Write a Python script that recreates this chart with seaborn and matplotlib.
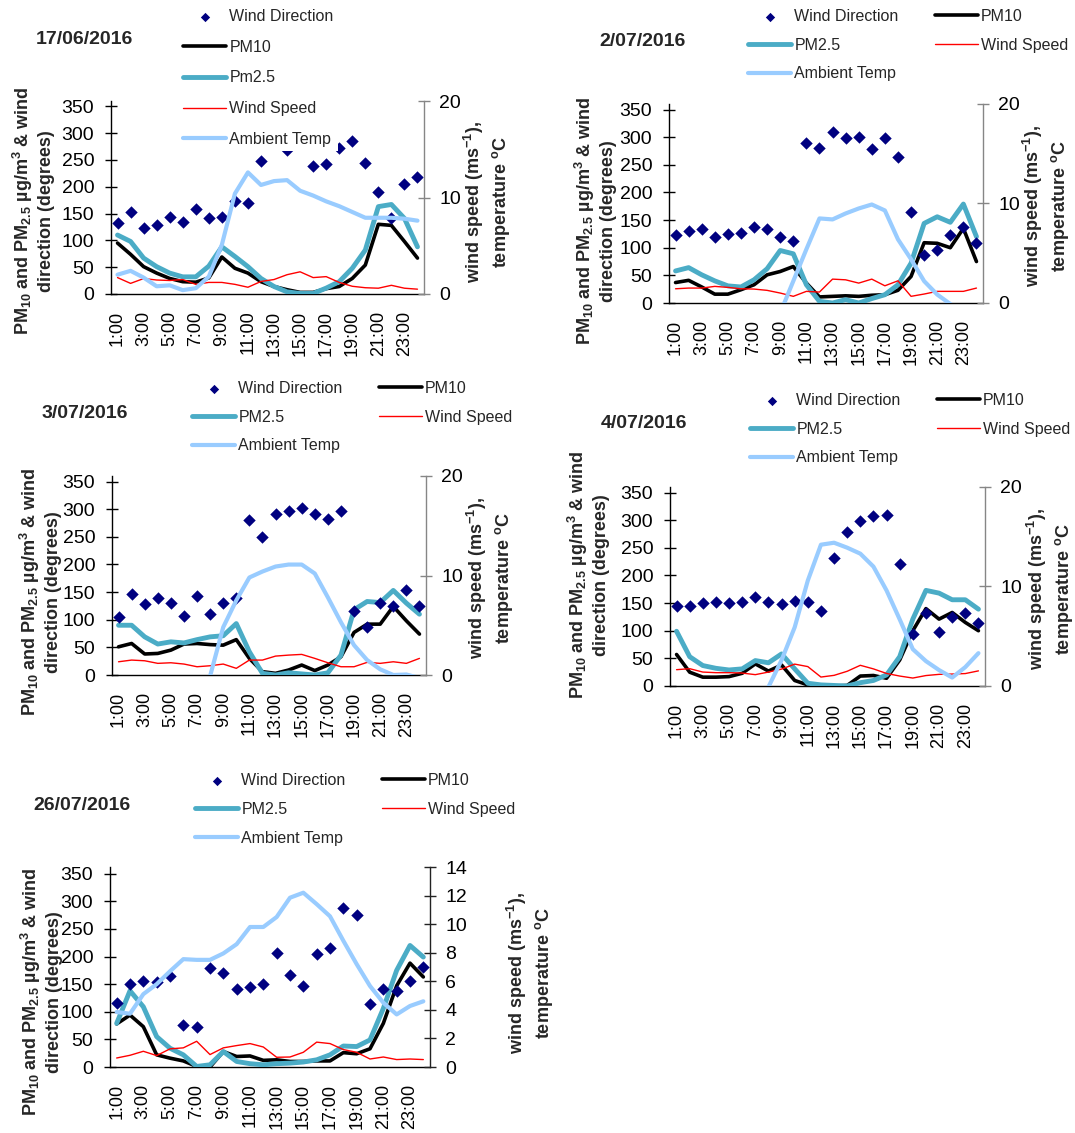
import numpy as np
import pandas as pd
import matplotlib
matplotlib.use("Agg")
import matplotlib.pyplot as plt
import seaborn as sns

# ---------------- data ----------------
HOURS = ["1:00", "2:00", "3:00", "4:00", "5:00", "6:00", "7:00", "8:00",
         "9:00", "10:00", "11:00", "12:00", "13:00", "14:00", "15:00", "16:00",
         "17:00", "18:00", "19:00", "20:00", "21:00", "22:00", "23:00", "24:00"]

# 17/06/2016
wd_0617 = [132, 153, 123, 129, 144, 134, 159, 141, 143, 173, 169, 249, 290, 268, 292, 239, 243, 273, 286, 245, 191, 141, 206, 219]
pm10_0617 = [95, 74, 51, 39, 29, 23, 22, 30, 69, 48, 39, 23, 14, 8, 3, 3, 10, 14, 29, 54, 130, 128, 98, 67]
pm25_0617 = [110, 98, 67, 51, 39, 32, 32, 52, 88, 70, 51, 29, 14, 4, 1, 1, 11, 23, 48, 82, 163, 167, 141, 88]
ws_0617 = [1.7, 1.1, 1.6, 1.45, 1.4, 1.5, 1.0, 1.2, 1.2, 1.0, 0.7, 1.3, 1.5, 2.0, 2.3, 1.7, 1.8, 1.2, 0.8, 0.65, 0.6, 0.9, 0.6, 0.5]
temp_0617 = [2.0, 2.4, 1.7, 0.8, 0.9, 0.4, 0.6, 1.8, 5.1, 10.4, 12.6, 11.3, 11.7, 11.8, 10.7, 10.2, 9.6, 9.1, 8.5, 7.9, 7.9, 7.9, 7.8, 7.6]

# 2/07/2016
wd_0207 = [123, 130, 134, 120, 124, 126, 137, 134, 120, 113, 289, 281, 310, 298, 301, 278, 298, 265, 164, 87, 96, 123, 138, 109]
pm10_0207 = [37, 41, 29, 16, 16, 24, 33, 51, 57, 66, 36, 11, 12, 13, 12, 14, 15, 23, 48, 109, 108, 100, 135, 75]
pm25_0207 = [58, 64, 51, 40, 31, 29, 42, 62, 95, 89, 33, 3, 0, 6, 0, 8, 15, 33, 72, 144, 156, 146, 179, 120]
ws_0207 = [1.43, 1.5, 1.5, 1.67, 1.57, 1.43, 1.4, 1.27, 1.0, 0.67, 1.17, 1.1, 2.4, 2.33, 2.0, 2.4, 1.73, 2.23, 0.67, 0.9, 1.17, 1.17, 1.17, 1.5]
temp_0207 = [-3.0, -3.2, -3.5, -3.8, -4.0, -4.0, -3.6, -2.8, -1.0, 2.2, 5.4, 8.5, 8.4, 9.0, 9.5, 9.9, 9.3, 6.4, 4.4, 2.2, 0.85, -0.1, -1.0, -1.5]

# 3/07/2016
wd_0307 = [105, 146, 128, 140, 131, 107, 143, 110, 131, 140, 280, 250, 291, 297, 303, 291, 283, 297, 115, 87, 131, 124, 154, 125]
pm10_0307 = [51, 57, 38, 39, 45, 56, 57, 55, 54, 64, 30, 6, 3, 9, 18, 8, 18, 33, 77, 92, 92, 124, 98, 74]
pm25_0307 = [90, 90, 69, 56, 60, 58, 64, 69, 71, 93, 42, 3, 0, 4, 2, 0, 4, 36, 118, 133, 131, 153, 130, 110]
ws_0307 = [1.33, 1.5, 1.43, 1.17, 1.23, 1.1, 0.83, 0.93, 1.1, 0.67, 1.5, 1.5, 1.9, 2.0, 2.07, 1.67, 1.23, 0.83, 0.83, 1.27, 1.17, 1.33, 1.17, 1.67]
temp_0307 = [-3.0, -3.2, -3.4, -3.5, -3.5, -3.0, -2.0, -0.1, 4.8, 7.5, 9.8, 10.4, 10.9, 11.1, 11.1, 10.2, 7.8, 5.3, 3.0, 1.5, 0.57, 0.0, 0.05, -0.3]

# 4/07/2016
wd_0407 = [144, 144, 150, 152, 150, 152, 161, 152, 149, 153, 152, 135, 231, 279, 299, 308, 309, 220, 94, 132, 98, 125, 132, 114]
pm10_0407 = [57, 25, 16, 16, 17, 23, 40, 27, 38, 10, 2, 0, 0, 1, 18, 19, 14, 47, 100, 140, 121, 133, 115, 100]
pm25_0407 = [99, 53, 37, 32, 29, 31, 46, 42, 58, 31, 5, 2, 1, 0, 6, 10, 20, 53, 121, 173, 168, 156, 156, 139]
ws_0407 = [1.64, 1.74, 1.4, 1.34, 1.34, 1.3, 1.14, 1.4, 1.7, 2.2, 1.95, 0.9, 1.07, 1.48, 2.08, 1.72, 1.26, 1.0, 0.8, 1.05, 1.17, 1.2, 1.25, 1.52]
temp_0407 = [-3.0, -3.2, -3.4, -3.5, -3.4, -3.0, -2.0, -0.1, 2.6, 5.9, 10.6, 14.2, 14.4, 13.9, 13.3, 12.0, 9.6, 6.7, 3.7, 2.5, 1.6, 0.85, 1.9, 3.3]

# 26/07/2016
wd_2607 = [115, 150, 156, 153, 165, 76, 73, 180, 171, 141, 145, 151, 207, 167, 147, 204, 215, 288, 275, 114, 142, 138, 155, 181]
pm10_2607 = [78, 94, 73, 22, 16, 11, 1, 0, 28, 19, 20, 12, 13, 10, 10, 11, 11, 26, 24, 33, 79, 147, 188, 163]
pm25_2607 = [79, 138, 109, 55, 34, 22, 1, 4, 28, 10, 6, 4, 6, 7, 9, 13, 22, 38, 37, 49, 106, 175, 220, 199]
ws_2607 = [0.63, 0.82, 1.1, 0.8, 1.27, 1.34, 1.8, 0.87, 1.34, 1.5, 1.64, 1.4, 0.68, 0.7, 1.03, 1.74, 1.64, 1.22, 1.03, 0.56, 0.7, 0.52, 0.56, 0.52]
temp_2607 = [3.85, 3.73, 5.1, 5.8, 6.7, 7.55, 7.5, 7.5, 7.95, 8.6, 9.8, 9.8, 10.5, 11.85, 12.2, 11.4, 10.55, 8.84, 7.2, 5.67, 4.5, 3.68, 4.27, 4.6]

# ---------------- style ----------------
sns.set_theme(style="white")
plt.rcParams['font.family'] = ['Liberation Sans', 'DejaVu Sans']
plt.rcParams['mathtext.fontset'] = 'custom'
plt.rcParams['mathtext.rm'] = 'Liberation Sans:bold'
plt.rcParams['mathtext.it'] = 'Liberation Sans:bold'
plt.rcParams['mathtext.bf'] = 'Liberation Sans:bold'
plt.rcParams['mathtext.sf'] = 'Liberation Sans:bold'
plt.rcParams['mathtext.default'] = 'rm'

C_WD = '#000080'
C_PM10 = '#000000'
C_PM25 = '#4BACC6'
C_WS = '#FF0000'
C_T = '#99CCFF'

W, H = 1075, 1133
fig = plt.figure(figsize=(W / 100, H / 100), dpi=100)
fig.patch.set_facecolor('white')


def fx(x):
    return x / W


def fy(y):
    return 1 - y / H


LEFT_LABEL = "PM$_{10}$ and PM$_{2.5}$ µg/m$^{3}$ & wind\ndirection (degrees)"
RIGHT_LABEL = "wind speed (ms$^{-1}$),\ntemperature $^{o}$C"

PANELS = [
    dict(title='17/06/2016', wd=wd_0617, pm10=pm10_0617, pm25=pm25_0617, ws=ws_0617, temp=temp_0617,
         pm25_label='Pm2.5', box=(111, 101, 424, 294), lmax=360, rmax=20, rticks=[0, 10, 20],
         title_xy=(36, 39), ylab_l=(33, 211), ylab_r=(487, 202), rcol='#868686',
         leg=(183, 15, 1, 30.7)),
    dict(title='2/07/2016', wd=wd_0207, pm10=pm10_0207, pm25=pm25_0207, ws=ws_0207, temp=temp_0207,
         pm25_label='PM2.5', box=(669, 104, 983, 303), lmax=360, rmax=20, rticks=[0, 10, 20],
         title_xy=(599, 41), ylab_l=(595, 221), ylab_r=(1046, 206), rcol='#868686',
         leg=(748, 15, 2, 28.7)),
    dict(title='3/07/2016', wd=wd_0307, pm10=pm10_0307, pm25=pm25_0307, ws=ws_0307, temp=temp_0307,
         pm25_label='PM2.5', box=(112, 476, 426, 675), lmax=360, rmax=20, rticks=[0, 10, 20],
         title_xy=(42, 413), ylab_l=(40, 592), ylab_r=(490, 578), rcol='#868686',
         leg=(192, 387, 2, 28.7)),
    dict(title='4/07/2016', wd=wd_0407, pm10=pm10_0407, pm25=pm25_0407, ws=ws_0407, temp=temp_0407,
         pm25_label='PM2.5', box=(670, 487, 985, 686), lmax=360, rmax=20, rticks=[0, 10, 20],
         title_xy=(601, 424), ylab_l=(588, 575), ylab_r=(1050, 589), rcol='#868686',
         leg=(750, 399, 2, 28.7)),
    dict(title='26/07/2016', wd=wd_2607, pm10=pm10_2607, pm25=pm25_2607, ws=ws_2607, temp=temp_2607,
         pm25_label='PM2.5', box=(110, 867, 430, 1067), lmax=362, rmax=14, rticks=[0, 2, 4, 6, 8, 10, 12, 14],
         title_xy=(33, 805), ylab_l=(41, 992), ylab_r=(530, 973), rcol='#222222',
         leg=(195, 779, 2, 28.9)),
]

TICK_FS = 14
XTICK_FS = 13
LEG_FS = 11.5
LAB_FS = 13
TITLE_FS = 14


def draw(p):
    L, T, R, B = p['box']
    ax = fig.add_axes([fx(L), fy(B), (R - L) / W, (B - T) / H])
    df = pd.DataFrame({'i': np.arange(24), 'hour': HOURS, 'wd': p['wd'], 'pm10': p['pm10'],
                       'pm25': p['pm25'], 'ws': p['ws'], 'temp': p['temp']})
    sns.lineplot(data=df, x='i', y='pm10', ax=ax, color=C_PM10, lw=2.6, label='PM10',
                 errorbar=None, zorder=2)
    sns.lineplot(data=df, x='i', y='pm25', ax=ax, color=C_PM25, lw=3.5, label=p['pm25_label'],
                 errorbar=None, zorder=3)
    sns.scatterplot(data=df, x='i', y='wd', ax=ax, color=C_WD, marker='D', s=40, linewidth=0,
                    label='Wind Direction', zorder=4)
    ax.set_xlim(-0.5, 23.5)
    ax.set_ylim(0, p['lmax'])

    ax2 = ax.twinx()
    sns.lineplot(data=df, x='i', y='ws', ax=ax2, color=C_WS, lw=1.0, label='Wind Speed',
                 errorbar=None, zorder=2)
    sns.lineplot(data=df, x='i', y='temp', ax=ax2, color=C_T, lw=3.0, label='Ambient Temp',
                 errorbar=None, zorder=3)
    ax2.set_ylim(0, p['rmax'])
    ax.set_xlim(-0.5, 23.5)

    h1, l1 = ax.get_legend_handles_labels()
    h2, l2 = ax2.get_legend_handles_labels()
    for a in (ax, ax2):
        if a.get_legend() is not None:
            a.get_legend().remove()
        a.set_xlabel('')
        a.set_ylabel('')
    hd = dict(zip(l1 + l2, h1 + h2))

    # axes styling
    for s in ('top', 'right'):
        ax.spines[s].set_visible(False)
    for s in ('top', 'left', 'bottom'):
        ax2.spines[s].set_visible(False)
    ax.spines['left'].set_color('black')
    ax.spines['bottom'].set_color('black')
    ax.spines['left'].set_linewidth(1.0)
    ax.spines['bottom'].set_linewidth(1.0)
    ax2.spines['right'].set_color(p['rcol'])
    ax2.spines['right'].set_linewidth(1.0)

    ax.set_yticks(np.arange(0, 351, 50))
    ax.tick_params(axis='y', which='major', direction='inout', length=8, width=1, color='black',
                   labelsize=TICK_FS, pad=8, labelcolor='black')
    ax.set_xticks(np.arange(-0.5, 24, 1))
    ax.set_xticklabels([])
    ax.set_xticks(np.arange(0, 24, 2), minor=True)
    ax.set_xticklabels(HOURS[::2], minor=True, rotation=90, fontsize=XTICK_FS)
    ax.tick_params(axis='x', which='major', direction='inout', length=8, width=1, color='black')
    ax.tick_params(axis='x', which='minor', length=0, pad=12, labelcolor='black')

    ax2.set_yticks(p['rticks'])
    ax2.tick_params(axis='y', direction='inout', length=8, width=1, color=p['rcol'],
                    labelsize=TICK_FS, pad=7, labelcolor='black')
    ax.grid(False)
    ax2.grid(False)

    # texts
    tx, ty = p['title_xy']
    fig.text(fx(tx), fy(ty), p['title'], ha='left', va='center', fontsize=TITLE_FS, fontweight='bold')
    lx, ly = p['ylab_l']
    fig.text(fx(lx), fy(ly), LEFT_LABEL, rotation=90, ha='center', va='center', ma='center',
             fontsize=LAB_FS, fontweight='bold')
    rx, ry = p['ylab_r']
    fig.text(fx(rx), fy(ry), RIGHT_LABEL, rotation=90, ha='center', va='center', ma='center',
             fontsize=LAB_FS, fontweight='bold')

    # legend
    hx, r1, ncol, pitch = p['leg']
    fs_px = LEG_FS * 100 / 72
    bp = 0.25
    rowh = 15.0
    lsp = (pitch - rowh) / fs_px
    x0 = hx - bp * fs_px
    y0 = r1 - 10.0
    if ncol == 1:
        order = ['Wind Direction', 'PM10', p['pm25_label'], 'Wind Speed', 'Ambient Temp']
    else:
        order = ['Wind Direction', p['pm25_label'], 'Ambient Temp', 'PM10', 'Wind Speed']
    leg = fig.legend([hd[k] for k in order], order, loc='upper left',
                     bbox_to_anchor=(fx(x0), fy(y0)), bbox_transform=fig.transFigure,
                     ncol=ncol, fontsize=LEG_FS, frameon=True, fancybox=False,
                     facecolor='white', edgecolor='none', framealpha=1.0,
                     borderpad=bp, borderaxespad=0, handlelength=2.7, handletextpad=0.2,
                     columnspacing=2.25, labelspacing=lsp, markerscale=0.75, scatterpoints=1)
    leg.set_zorder(10)


for p in PANELS:
    draw(p)

fig.savefig('out.png', dpi=100, facecolor='white')
